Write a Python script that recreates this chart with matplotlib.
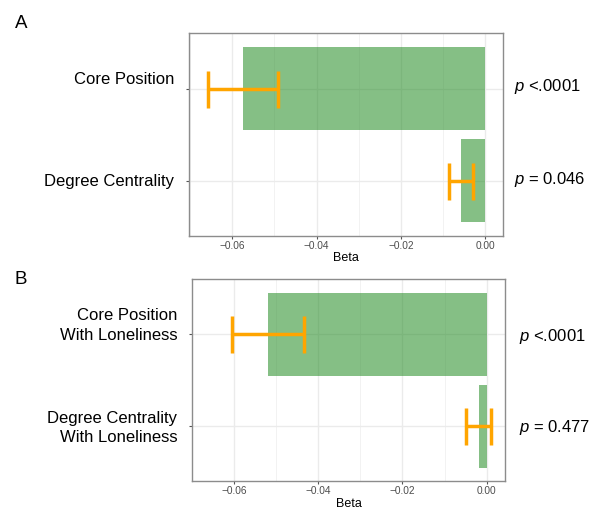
import matplotlib
matplotlib.use("Agg")
import matplotlib.pyplot as plt
import matplotlib.transforms as mtransforms
from matplotlib.ticker import MultipleLocator

plt.rcParams['font.family'] = ['Liberation Sans', 'DejaVu Sans']
plt.rcParams['mathtext.fontset'] = 'custom'
plt.rcParams['mathtext.it'] = 'Liberation Sans:italic'
plt.rcParams['mathtext.rm'] = 'Liberation Sans'

# --- data ---
labels_a = ['Core Position', 'Degree Centrality']
beta_a = [-0.0575, -0.0058]
err_a = [0.0083, 0.00285]
pvals_a = ['$p$ <.0001', '$p$ = 0.046']

labels_b = ['Core Position\nWith Loneliness', 'Degree Centrality\nWith Loneliness']
beta_b = [-0.0519, -0.0019]
err_b = [0.0086, 0.0030]
pvals_b = ['$p$ <.0001', '$p$ = 0.477']

x_ticks = [-0.06, -0.04, -0.02, 0.00]


def px(v):
    # pixels -> points at dpi 100
    return v * 72 / 100


def draw_panel(ax, labels, beta, err, pvals, label_dy, p_dx, p_dy, xlim):
    ypos = list(range(1, len(labels) + 1))
    ax.set_axisbelow(True)
    ax.barh(ypos, beta, height=0.9, color='forestgreen', alpha=0.55, zorder=2)
    ax.errorbar(beta, ypos, xerr=err, fmt='none', ecolor='#FFA500',
                elinewidth=2.5, capsize=px(18.5), capthick=2.5, zorder=3)

    ax.set_xlim(*xlim)
    ax.set_ylim(2.6, 0.4)
    ax.set_xticks(x_ticks)
    ax.set_xticklabels(['\u22120.06', '\u22120.04', '\u22120.02', '0.00'])
    ax.xaxis.set_minor_locator(MultipleLocator(0.01))
    ax.set_yticks(ypos)
    ax.set_yticklabels([])
    ax.grid(True, which='major', color='#ebebeb', lw=1.0)
    ax.grid(True, which='minor', axis='x', color='#f2f2f2', lw=0.7)
    ax.tick_params(axis='x', which='major', labelsize=7.3, colors='#4d4d4d',
                   length=2, pad=1.5, color='#555555')
    ax.tick_params(axis='x', which='minor', length=0)
    ax.tick_params(axis='y', length=2.5, color='#555555')
    for s in ax.spines.values():
        s.set_color('#8c8c8c')
        s.set_linewidth(1.0)
    ax.set_xlabel('Beta', fontsize=9, labelpad=1)

    trans = mtransforms.blended_transform_factory(ax.transAxes, ax.transData)
    for y, lab, dy in zip(ypos, labels, label_dy):
        ax.annotate(lab, xy=(0, y), xycoords=trans, xytext=(px(-15), px(-dy)),
                    textcoords='offset points', ha='right', va='center',
                    multialignment='right', linespacing=1.35, fontsize=12,
                    annotation_clip=False)
    for y, p, dy in zip(ypos, pvals, p_dy):
        ax.annotate(p, xy=(1, y), xycoords=trans, xytext=(px(p_dx), px(-dy)),
                    textcoords='offset points', ha='left', va='center',
                    fontsize=12, annotation_clip=False)


fig = plt.figure(figsize=(5.96, 5.11), dpi=100)
ax_a = fig.add_axes([0.3176, 0.5382, 0.8445 - 0.3176, 0.9348 - 0.5382])
ax_b = fig.add_axes([0.3227, 0.0581, 0.8473 - 0.3227, 0.4534 - 0.0581])

draw_panel(ax_a, labels_a, beta_a, err_a, pvals_a,
           label_dy=[-9, 1], p_dx=11, p_dy=[-2, -1], xlim=(-0.0702, 0.00435))
draw_panel(ax_b, labels_b, beta_b, err_b, pvals_b,
           label_dy=[-9, 2], p_dx=14, p_dy=[2, 1], xlim=(-0.0699, 0.00435))

fig.text(15 / 596, 1 - 24 / 511, 'A', fontsize=13.5, ha='left', va='center')
fig.text(15 / 596, 1 - 279 / 511, 'B', fontsize=13.5, ha='left', va='center')

fig.savefig('out.png', dpi=100)
